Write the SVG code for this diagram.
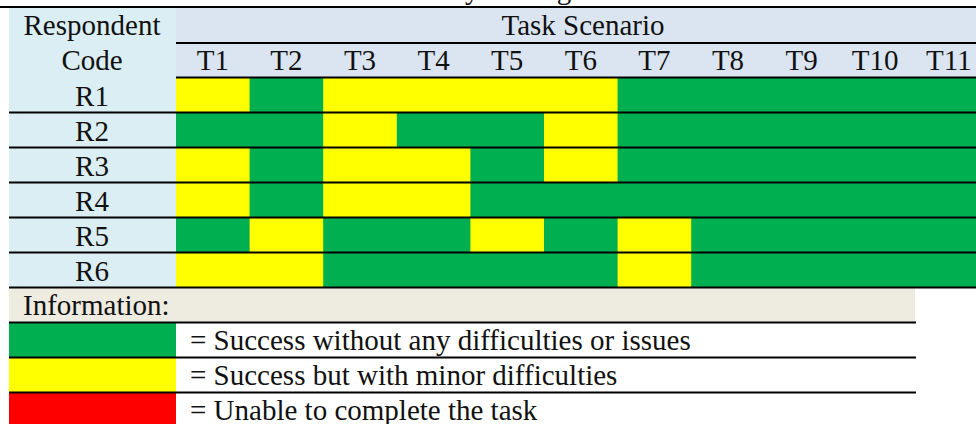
<svg xmlns="http://www.w3.org/2000/svg" width="976" height="424" viewBox="0 0 976 424">
  <style>
    text { font-family: "Liberation Serif", "Times New Roman", serif; font-size: 29px; fill: #111; }
    .c { text-anchor: middle; }
    .g { fill: #00B050; }
    .y { fill: #FFFF00; }
    .r { fill: #FF0000; }
    .rule { stroke: #000; stroke-width: 2.2; }
  </style>

  <!-- caption (runs off the top edge) -->
  <text id="caption" x="273" y="-1">Table 4. Usability Testing Success Rate</text>

  <!-- header backgrounds -->
  <g id="header">
    <rect x="9" y="7" width="167" height="281" fill="#DAEEF3"/>
    <rect x="176" y="7" width="800" height="71" fill="#DBE5F1"/>
    <text class="c" x="92" y="35">Respondent</text>
    <text class="c" x="92" y="70">Code</text>
    <text class="c" x="583" y="35">Task Scenario</text>
    <g class="c">
      <text class="c" x="212.8" y="70">T1</text>
      <text class="c" x="286.4" y="70">T2</text>
      <text class="c" x="360" y="70">T3</text>
      <text class="c" x="433.6" y="70">T4</text>
      <text class="c" x="507.2" y="70">T5</text>
      <text class="c" x="580.8" y="70">T6</text>
      <text class="c" x="654.4" y="70">T7</text>
      <text class="c" x="728" y="70">T8</text>
      <text class="c" x="801.6" y="70">T9</text>
      <text class="c" x="875.2" y="70">T10</text>
      <text class="c" x="948.8" y="70">T11</text>
    </g>
  </g>

  <!-- R1 -->
  <g id="row-R1">
    <rect class="g" x="176" y="77.5" width="800" height="35"/>
    <rect class="y" x="176" y="77.5" width="73.6" height="35"/>
    <rect class="y" x="323.2" y="77.5" width="294.4" height="35"/>
    <text class="c" x="92" y="106">R1</text>
  </g>
  <!-- R2 -->
  <g id="row-R2">
    <rect class="g" x="176" y="112.5" width="800" height="35"/>
    <rect class="y" x="323.2" y="112.5" width="73.6" height="35"/>
    <rect class="y" x="544" y="112.5" width="73.6" height="35"/>
    <text class="c" x="92" y="141">R2</text>
  </g>
  <!-- R3 -->
  <g id="row-R3">
    <rect class="g" x="176" y="147.5" width="800" height="35"/>
    <rect class="y" x="176" y="147.5" width="73.6" height="35"/>
    <rect class="y" x="323.2" y="147.5" width="147.2" height="35"/>
    <rect class="y" x="544" y="147.5" width="73.6" height="35"/>
    <text class="c" x="92" y="176">R3</text>
  </g>
  <!-- R4 -->
  <g id="row-R4">
    <rect class="g" x="176" y="182.5" width="800" height="35"/>
    <rect class="y" x="176" y="182.5" width="73.6" height="35"/>
    <rect class="y" x="323.2" y="182.5" width="147.2" height="35"/>
    <text class="c" x="92" y="211">R4</text>
  </g>
  <!-- R5 -->
  <g id="row-R5">
    <rect class="g" x="176" y="217.5" width="800" height="35"/>
    <rect class="y" x="249.6" y="217.5" width="73.6" height="35"/>
    <rect class="y" x="470.4" y="217.5" width="73.6" height="35"/>
    <rect class="y" x="617.6" y="217.5" width="73.6" height="35"/>
    <text class="c" x="92" y="246">R5</text>
  </g>
  <!-- R6 -->
  <g id="row-R6">
    <rect class="g" x="176" y="252.5" width="800" height="35"/>
    <rect class="y" x="176" y="252.5" width="147.2" height="35"/>
    <rect class="y" x="617.6" y="252.5" width="73.6" height="35"/>
    <text class="c" x="92" y="281">R6</text>
  </g>

  <!-- legend -->
  <g id="legend">
    <rect x="9" y="287.5" width="906" height="35" fill="#EEECE1"/>
    <text x="23" y="315">Information:</text>
    <rect class="g" x="9" y="322.5" width="167" height="35"/>
    <text x="190" y="350">= Success without any difficulties or issues</text>
    <rect class="y" x="9" y="357.5" width="167" height="35"/>
    <text x="190" y="385">= Success but with minor difficulties</text>
    <rect class="r" x="9" y="392.5" width="167" height="35"/>
    <text x="190" y="419.5">= Unable to complete the task</text>
  </g>

  <!-- table rules -->
  <g id="rules" class="rule">
    <line x1="0" y1="7" x2="976" y2="7"/>
    <line x1="176" y1="43" x2="976" y2="43"/>
    <line x1="176" y1="77.5" x2="976" y2="77.5"/>
    <line x1="9" y1="112.5" x2="976" y2="112.5"/>
    <line x1="9" y1="147.5" x2="976" y2="147.5"/>
    <line x1="9" y1="182.5" x2="976" y2="182.5"/>
    <line x1="9" y1="217.5" x2="976" y2="217.5"/>
    <line x1="9" y1="252.5" x2="976" y2="252.5"/>
    <line x1="9" y1="287.5" x2="976" y2="287.5"/>
    <line x1="9" y1="322.5" x2="916" y2="322.5"/>
    <line x1="9" y1="357.5" x2="916" y2="357.5"/>
    <line x1="9" y1="392.5" x2="916" y2="392.5"/>
  </g>
</svg>
